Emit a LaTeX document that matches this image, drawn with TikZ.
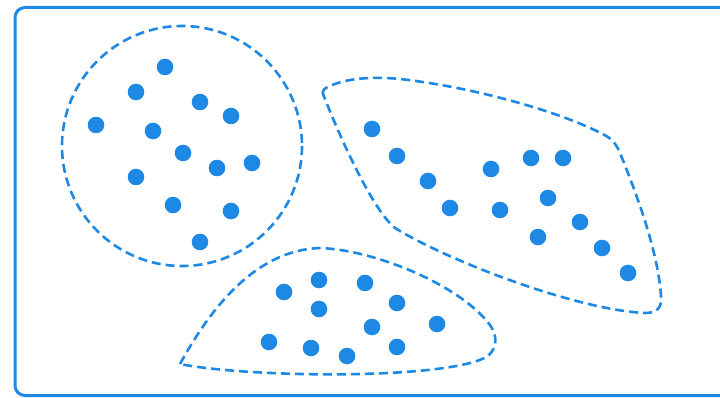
\documentclass[tikz,border=0pt]{standalone}
\usetikzlibrary{positioning}
\definecolor{ptblue}{RGB}{30,136,229}

\begin{document}
\begin{tikzpicture}[
  x=1pt, y=-1pt,
  dot/.style={circle,fill=ptblue,inner sep=0pt,minimum size=16.6pt},
  cluster/.style={draw=ptblue,line width=2.6pt,dash pattern=on 9pt off 5pt},
  frame/.style={draw=ptblue,line width=3pt,rounded corners=10pt}
]
\clip (0,0) rectangle (720,398);
\fill[white] (0,0) rectangle (720,398);

% Frame
\draw[frame] (15,7.5) rectangle (745,395.5);

% Cluster outlines
\draw[cluster] (182,146) circle (120);
\draw[cluster] (323,94) .. controls (322,90) and (325,88) .. (330,86)
  .. controls (345,79) and (370,76) .. (400,79)
  .. controls (480,88) and (570,115) .. (608,137)
  .. controls (614,141) and (617,146) .. (620,153)
  .. controls (635,190) and (658,250) .. (661,296)
  .. controls (662,308) and (657,313) .. (645,313)
  .. controls (578,310) and (450,262) .. (395,228)
  .. controls (375,212) and (345,150) .. (323,94) -- cycle;
\draw[cluster] (180,364) .. controls (215,300) and (260,250) .. (320,248)
  .. controls (375,250) and (460,285) .. (490,325)
  .. controls (497,335) and (498,347) .. (488,356)
  .. controls (450,380) and (250,378) .. (180,364) -- cycle;

% Points
\foreach \p [count=\i] in {(165,67),(136,92),(200,102),(231,116),(96,125),(153,131),
    (183,153),(217,168),(252,163),(136,177),(173,205),(231,211),(200,242)}
  \node[dot] (a\i) at \p {};
\foreach \p [count=\i] in {(372,129),(397,156),(428,181),(450,208),(491,169),(500,210),
    (531,158),(563,158),(548,198),(580,222),(538,237),(602,248),(628,273)}
  \node[dot] (b\i) at \p {};
\foreach \p [count=\i] in {(284,292),(319,280),(319,309),(365,283),(397,303),(372,327),
    (437,324),(269,342),(311,348),(347,356),(397,347)}
  \node[dot] (c\i) at \p {};
\end{tikzpicture}
\end{document}
